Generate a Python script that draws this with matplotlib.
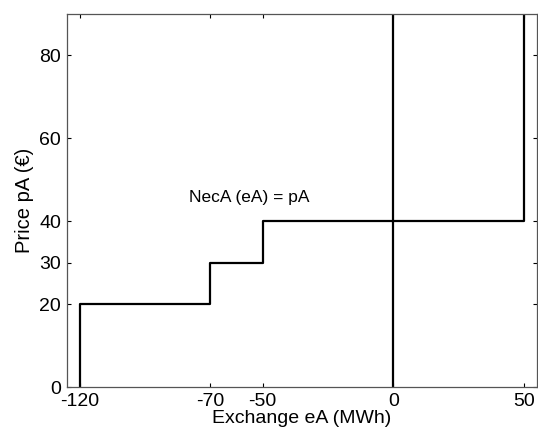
import matplotlib.pyplot as plt

plt.rcParams['font.family'] = ['Liberation Sans', 'DejaVu Sans']
plt.rcParams['axes.unicode_minus'] = False

# step curve: exchange (MWh) vs price (EUR)
exchange = [-120, -120, -70, -70, -50, -50, 50, 50]
price = [0, 20, 20, 30, 30, 40, 40, 90]
# vertical line at zero exchange
zero_x = [0, 0]
zero_y = [0, 90]

xticks = [-120, -70, -50, 0, 50]
yticks = [0, 20, 30, 40, 60, 80]

fig = plt.figure(figsize=(5.38, 4.33), dpi=100)
ax = fig.add_axes([0.124, 0.106, 0.874, 0.862])

ax.plot(exchange, price, color='black', linewidth=1.6)
ax.plot(zero_x, zero_y, color='black', linewidth=1.6)

ax.text(-78, 45.8, 'NecA (eA) = pA', fontsize=12.5, va='center', ha='left')

ax.set_xlim(-125, 55)
ax.set_ylim(0, 90)
ax.set_xticks(xticks)
ax.set_yticks(yticks)
ax.tick_params(direction='in', top=True, right=True, length=3, labelsize=14)
ax.tick_params(axis='x', pad=4)
ax.tick_params(axis='y', pad=4)
for s in ax.spines.values():
    s.set_color('#555555')
    s.set_linewidth(0.9)

ax.set_xlabel('Exchange eA (MWh)', fontsize=14, labelpad=0)
ax.set_ylabel('Price pA (€)', fontsize=14.5, labelpad=4)

fig.savefig('out.png', dpi=100)
